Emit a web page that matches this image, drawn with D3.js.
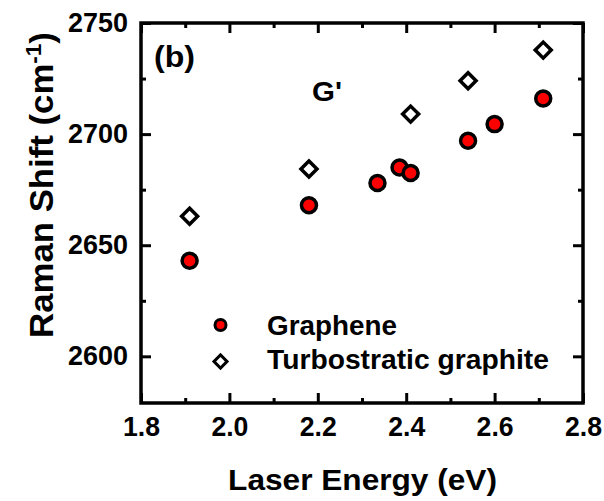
<!DOCTYPE html>
<html><head><meta charset="utf-8">
<script src="https://cdn.jsdelivr.net/npm/d3@7"></script>
<style>
body{margin:0;background:#fff}
text{font-family:"Liberation Sans",Arial,sans-serif;font-weight:bold;fill:#000}
</style>
</head><body>
<svg id="c" width="604" height="501"></svg>
<script>
// ---- data ----
const energyGraphene = [1.91, 2.18, 2.335, 2.385, 2.41, 2.54, 2.60, 2.71];
const shiftGraphene  = [2643, 2668, 2678, 2685, 2682.5, 2697, 2704.5, 2716];
const energyTurbo    = [1.91, 2.18, 2.41, 2.54, 2.71];
const shiftTurbo     = [2663, 2684.3, 2709, 2724, 2737.8];
const seriesNames    = ["Graphene", "Turbostratic graphite"];
const xTickValues    = [1.8, 2.0, 2.2, 2.4, 2.6, 2.8];
const xMinorTicks    = [1.9, 2.1, 2.3, 2.5, 2.7];
const yTickValues    = [2600, 2650, 2700, 2750];
const yMinorTicks    = [2625, 2675, 2725];

const svg = d3.select("#c");
const L = 141, R = 583, T = 23, B = 403;
const x = d3.scaleLinear().domain([1.8, 2.8]).range([L, R]);
const y = d3.scaleLinear().domain([2579, 2750]).range([B, T]);

function stretchTo(sel, w) {
  sel.each(function () {
    const t = d3.select(this);
    const n = this.getComputedTextLength();
    const k = w / n;
    const tx = +t.attr("x") || 0, ty = +t.attr("y") || 0;
    t.attr("x", 0).attr("y", 0).attr("transform", `translate(${tx},${ty}) scale(${k},1)`);
  });
}
function styleAxis(g) {
  g.select(".domain").remove();
  g.selectAll("line").attr("stroke", "#000").attr("stroke-width", 3);
  g.selectAll("text").attr("fill", "#000").style("font-size", "28px").attr("font-family", null);
}

// bottom axis
const gb = svg.append("g").attr("transform", `translate(0,${B})`)
  .call(d3.axisBottom(x).tickValues(xTickValues).tickFormat(d3.format(".1f")).tickSizeInner(-10).tickSizeOuter(0).tickPadding(13));
styleAxis(gb);
gb.selectAll("text").each(function(){ stretchTo(d3.select(this), 37); });
svg.append("g").attr("transform", `translate(0,${B})`)
  .call(d3.axisBottom(x).tickValues(xMinorTicks).tickFormat("").tickSizeInner(-5).tickSizeOuter(0)).call(styleAxis);
// top axis
svg.append("g").attr("transform", `translate(0,${T})`)
  .call(d3.axisTop(x).tickValues(xTickValues).tickFormat("").tickSizeInner(-10).tickSizeOuter(0)).call(styleAxis);
svg.append("g").attr("transform", `translate(0,${T})`)
  .call(d3.axisTop(x).tickValues(xMinorTicks).tickFormat("").tickSizeInner(-5).tickSizeOuter(0)).call(styleAxis);
// left axis
const gl = svg.append("g").attr("transform", `translate(${L},0)`)
  .call(d3.axisLeft(y).tickValues(yTickValues).tickFormat(d3.format("d")).tickSizeInner(-10).tickSizeOuter(0).tickPadding(13));
styleAxis(gl);
gl.selectAll("text").attr("dy", "0.3em").each(function(){ stretchTo(d3.select(this), 60); });
svg.append("g").attr("transform", `translate(${L},0)`)
  .call(d3.axisLeft(y).tickValues(yMinorTicks).tickFormat("").tickSizeInner(-5).tickSizeOuter(0)).call(styleAxis);
// right axis
svg.append("g").attr("transform", `translate(${R},0)`)
  .call(d3.axisRight(y).tickValues(yTickValues).tickFormat("").tickSizeInner(-10).tickSizeOuter(0)).call(styleAxis);
svg.append("g").attr("transform", `translate(${R},0)`)
  .call(d3.axisRight(y).tickValues(yMinorTicks).tickFormat("").tickSizeInner(-5).tickSizeOuter(0)).call(styleAxis);

// frame
svg.append("rect").attr("x", L).attr("y", T).attr("width", R - L).attr("height", B - T)
  .attr("fill", "none").attr("stroke", "#000").attr("stroke-width", 3.5);

// marks
const diamond = d3.symbol().type(d3.symbolSquare).size(128)();
const diamondSmall = d3.symbol().type(d3.symbolSquare).size(85)();
svg.append("g").selectAll("path").data(energyTurbo.map((e, i) => [e, shiftTurbo[i]])).join("path")
  .attr("d", diamond)
  .attr("transform", d => `translate(${x(d[0])},${y(d[1])}) rotate(45)`)
  .attr("fill", "#fff").attr("stroke", "#000").attr("stroke-width", 3.5);
svg.append("g").selectAll("circle").data(energyGraphene.map((e, i) => [e, shiftGraphene[i]])).join("circle")
  .attr("cx", d => x(d[0])).attr("cy", d => y(d[1])).attr("r", 7.5)
  .attr("fill", "#ff0000").attr("stroke", "#000").attr("stroke-width", 3.5);

// legend
svg.append("circle").attr("cx", 220.5).attr("cy", 325).attr("r", 5.5)
  .attr("fill", "#ff0000").attr("stroke", "#000").attr("stroke-width", 3);
svg.append("path").attr("d", diamondSmall).attr("transform", "translate(220.5,361.5) rotate(45)")
  .attr("fill", "#fff").attr("stroke", "#000").attr("stroke-width", 3);
stretchTo(svg.append("text").attr("x", 267).attr("y", 335).style("font-size", "28px").text(seriesNames[0]), 130);
stretchTo(svg.append("text").attr("x", 267).attr("y", 369).style("font-size", "28px").text(seriesNames[1]), 282);

// annotations
stretchTo(svg.append("text").attr("x", 154).attr("y", 67).style("font-size", "30px").text("(b)"), 41);
stretchTo(svg.append("text").attr("x", 312).attr("y", 101).style("font-size", "28px").text("G'"), 30);

// axis titles
stretchTo(svg.append("text").attr("x", 362.5).attr("y", 490).attr("text-anchor", "middle")
  .style("font-size", "30px").text("Laser Energy (eV)"), 269);

const yt = svg.append("text").attr("text-anchor", "middle").style("font-size", "34px");
yt.append("tspan").text("Raman Shift (cm");
yt.append("tspan").attr("baseline-shift", "super").style("font-size", "22px").text("-1");
yt.append("tspan").text(")");
{
  const n = yt.node().getComputedTextLength();
  yt.attr("transform", `translate(53,185) rotate(-90) scale(${306 / n},1)`);
}
</script>
</body></html>
